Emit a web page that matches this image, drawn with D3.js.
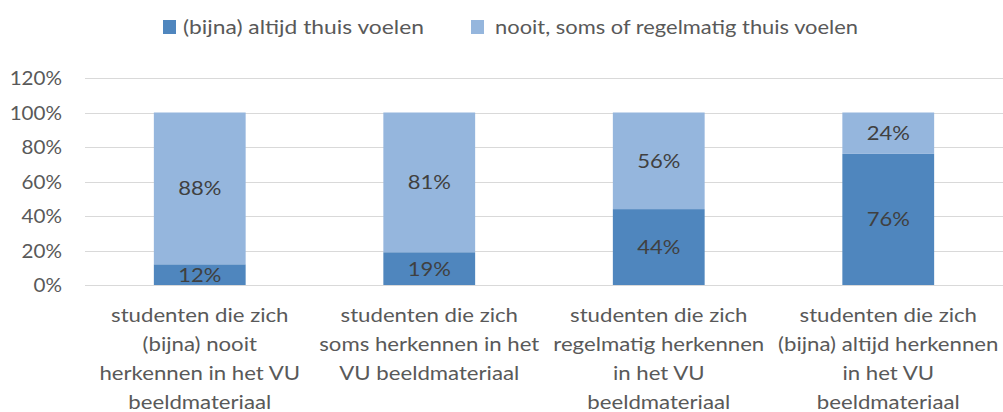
<!DOCTYPE html>
<html><head><meta charset="utf-8">
<script src="https://cdn.jsdelivr.net/npm/d3@7"></script>
<style>body{margin:0;background:#fff}svg{display:block}</style>
</head><body><svg id="c" width="1003" height="412"></svg>
<script>
const categories = [
  ["studenten die zich","(bijna) nooit","herkennen in het VU","beeldmateriaal"],
  ["studenten die zich","soms herkennen in het","VU beeldmateriaal"],
  ["studenten die zich","regelmatig herkennen","in het VU","beeldmateriaal"],
  ["studenten die zich","(bijna) altijd herkennen","in het VU","beeldmateriaal"]
];
const seriesNames = ["(bijna) altijd thuis voelen","nooit, soms of regelmatig thuis voelen"];
const altijd = [12,19,44,76];
const nooit = [88,81,56,24];
const yTicks = [0,20,40,60,80,100,120];
const colors = ["#4F86BE","#95B6DD"];

const svg = d3.select("#c");
const font = "Lato, 'Open Sans', sans-serif";
const x = d3.scaleBand().domain(d3.range(categories.length)).range([85,1003]).paddingInner(0.6).paddingOuter(0.3);
const y = d3.scaleLinear().domain([0,120]).range([285,78]);

function txt(g, tx, ty, sx, str, anchor, fill){
  return g.append("text").attr("transform",`translate(${tx},${ty}) scale(${sx},1)`)
    .attr("text-anchor",anchor).attr("font-family",font).attr("font-size",20).attr("fill",fill).text(str);
}

// gridlines
svg.append("g").selectAll("line").data(yTicks).join("line")
  .attr("x1",85).attr("x2",1003).attr("y1",d=>Math.round(y(d))+0.5).attr("y2",d=>Math.round(y(d))+0.5)
  .attr("stroke","#D9D9D9").attr("stroke-width",1);
const tg = svg.append("g");
yTicks.forEach(d=>txt(tg,62,y(d)+7,1.03,d+"%","end","#595959"));

const stacked = d3.stack().keys([0,1])(altijd.map((v,i)=>({0:v,1:nooit[i]})));
stacked.forEach((s,si)=>{
  svg.append("g").selectAll("rect").data(s).join("rect")
    .attr("x",(d,i)=>x(i)).attr("width",x.bandwidth())
    .attr("y",d=>y(d[1])).attr("height",d=>y(d[0])-y(d[1])).attr("fill",colors[si]);
  const lg = svg.append("g");
  s.forEach((d,i)=>txt(lg,x(i)+x.bandwidth()/2,y((d[0]+d[1])/2)+7,1.1,(d[1]-d[0])+"%","middle","#404040"));
});

// category labels
const cg = svg.append("g");
categories.forEach((lines,i)=>{
  lines.forEach((l,j)=>txt(cg,x(i)+x.bandwidth()/2,322+j*29,1.11,l,"middle","#595959"));
});

// legend
const leg = [{x:163,tx:183,sx:1.14},{x:471,tx:495,sx:1.095}];
seriesNames.forEach((n,i)=>{
  svg.append("rect").attr("x",leg[i].x).attr("y",20).attr("width",13).attr("height",14).attr("fill",colors[i]);
  txt(svg,leg[i].tx,34,leg[i].sx,n,"start","#595959");
});
</script></body></html>
